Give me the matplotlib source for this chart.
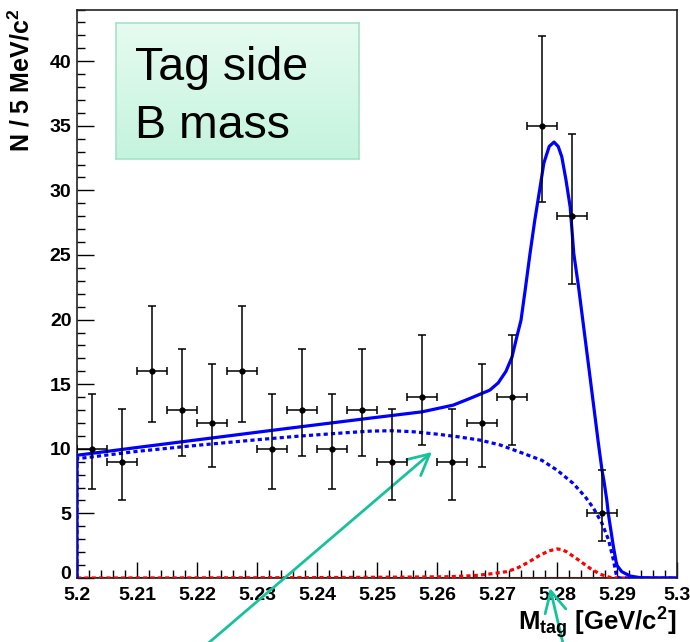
import numpy as np
import matplotlib
matplotlib.use("Agg")
import matplotlib.pyplot as plt
import matplotlib.transforms as mtransforms
from matplotlib.ticker import FixedLocator, MultipleLocator
from matplotlib.colors import LinearSegmentedColormap

plt.rcParams['font.family'] = ['Liberation Sans', 'DejaVu Sans']
plt.rcParams['mathtext.fontset'] = 'custom'
plt.rcParams['mathtext.rm'] = 'Liberation Sans'
plt.rcParams['mathtext.bf'] = 'Liberation Sans:bold'
plt.rcParams['mathtext.it'] = 'Liberation Sans:italic'

# ---------------- data ----------------
bin_centers = [5.2025, 5.2075, 5.2125, 5.2175, 5.2225, 5.2275, 5.2325, 5.2375, 5.2425,
               5.2475, 5.2525, 5.2575, 5.2625, 5.2675, 5.2725, 5.2775, 5.2825, 5.2875]
counts = [10, 9, 16, 13, 12, 16, 10, 13, 10, 13, 9, 14, 9, 12, 14, 35, 28, 5]
err_low = [3.10, 3.00, 3.95, 3.55, 3.41, 3.95, 3.10, 3.55, 3.10,
           3.55, 3.00, 3.69, 3.00, 3.41, 3.69, 5.88, 5.26, 2.16]
err_high = [4.26, 4.10, 5.08, 4.69, 4.55, 5.08, 4.26, 4.69, 4.26,
            4.69, 4.10, 4.83, 4.10, 4.55, 4.83, 6.97, 6.35, 3.38]
bin_half_width = 0.0025

# total fit (solid blue)
total_x = [5.2, 5.2, 5.21, 5.2205, 5.23, 5.2372, 5.2488, 5.2575, 5.2627, 5.2655, 5.2688,
           5.2702, 5.2715, 5.2725, 5.2733, 5.2740, 5.2747, 5.2755, 5.2763, 5.2772, 5.2778,
           5.2787, 5.2795, 5.2802, 5.2808, 5.2815, 5.2822, 5.2828, 5.2836, 5.2843,
           5.2855, 5.2869, 5.2875, 5.2878, 5.2883, 5.28855, 5.2894, 5.28995, 5.2908,
           5.2922, 5.2938, 5.2960, 5.3]
total_y = [0.0, 9.5, 10.1, 10.72, 11.28, 11.7, 12.37, 12.86, 13.38, 13.9, 14.54,
           15.1, 16.0, 17.1, 18.66, 19.95, 22.3, 25.1, 27.7, 30.3, 32.1,
           33.4, 33.74, 33.4, 32.6, 30.8, 28.7, 25.1, 22.5, 19.95,
           15.57, 10.42, 8.35, 7.58, 6.03, 5.0, 2.42, 1.0, 0.49,
           0.15, 0.03, 0.0, 0.0]

# background component (dashed blue)
bkg_x = [5.2, 5.2, 5.2005, 5.21, 5.2205, 5.23, 5.237, 5.245, 5.249, 5.2525, 5.256,
         5.2599, 5.2635, 5.2672, 5.2705, 5.2744, 5.2775, 5.28, 5.2827, 5.2847,
         5.2861, 5.2875, 5.2886, 5.2894, 5.28995, 5.2905, 5.3]
bkg_y = [0.0, 9.25, 9.26, 9.8, 10.29, 10.7, 10.98, 11.25, 11.37, 11.4, 11.32,
         11.14, 10.93, 10.67, 10.3, 9.64, 9.1, 8.35, 7.32, 6.29,
         5.39, 4.23, 2.94, 1.39, 0.1, 0.0, 0.0]

# peaking component (dashed red)
peak_x = [5.2, 5.22, 5.24, 5.255, 5.2622, 5.2661, 5.2688, 5.2716, 5.2733, 5.2752,
          5.2772, 5.2787, 5.2800, 5.2808, 5.2816, 5.2836, 5.2855, 5.2872, 5.2888,
          5.29, 5.3]
peak_y = [0.0, 0.01, 0.03, 0.07, 0.1, 0.18, 0.31, 0.49, 0.75, 1.21,
          1.78, 2.1, 2.25, 2.2, 2.03, 1.39, 0.75, 0.29, 0.05,
          0.0, 0.0]

x_ticks = [5.2, 5.21, 5.22, 5.23, 5.24, 5.25, 5.26, 5.27, 5.28, 5.29, 5.3]
x_tick_labels = ['5.2', '5.21', '5.22', '5.23', '5.24', '5.25', '5.26', '5.27',
                 '5.28', '5.29', '5.3']
y_ticks = [0, 5, 10, 15, 20, 25, 30, 35, 40]

# ---------------- figure ----------------
fig = plt.figure(figsize=(6.9, 6.42), dpi=100)
ax = fig.add_axes([77 / 690, 64 / 642, 600 / 690, 568.5 / 642])

ax.plot([5.2, 5.3], [0, 0], color='#ff0000', lw=1.5, zorder=2)
ax.plot(peak_x, peak_y, color='#ff0000', lw=2.3, dashes=(1.3, 1.0), zorder=3)
ax.plot(bkg_x, bkg_y, color='#0000ff', lw=2.3, dashes=(1.3, 1.0), zorder=4)
ax.plot(total_x, total_y, color='#0000ff', lw=2.3, zorder=5)

ax.errorbar(bin_centers, counts, yerr=[err_low, err_high],
            xerr=bin_half_width, fmt='o', color='black', ms=3.5, lw=1.1,
            capsize=2.8, capthick=1.1, zorder=6)

ax.set_xlim(5.2, 5.3)
ax.set_ylim(0, 44.0)
ax.xaxis.set_major_locator(FixedLocator(x_ticks))
ax.set_xticklabels(x_tick_labels)
ax.xaxis.set_minor_locator(MultipleLocator(0.002))
ax.yaxis.set_major_locator(FixedLocator(y_ticks))
ax.yaxis.set_minor_locator(MultipleLocator(1))
ax.tick_params(axis='both', which='major', direction='in', length=12.5, width=1.0,
               labelsize=14, pad=4, top=False, right=False)
ax.tick_params(axis='both', which='minor', direction='in', length=6, width=1.0,
               top=False, right=False)
ax.tick_params(axis='x', which='major', length=11.5, pad=6.5)
for lab in ax.get_xticklabels() + ax.get_yticklabels():
    lab.set_fontweight('bold')
# nudge the "0" label up a little so it does not collide with "5.2"
zero_lab = ax.yaxis.get_major_ticks()[0].label1
zero_lab.set_transform(zero_lab.get_transform() +
                       mtransforms.ScaledTranslation(0, 4 / 72, fig.dpi_scale_trans))
for sp in ax.spines.values():
    sp.set_linewidth(1.2)
    sp.set_color('#222222')

fig.text(21 / 690, 1 - 9 / 642, r'N / 5 MeV/c$^{\mathbf{2}}$', rotation=90,
         ha='center', va='top', fontsize=18, fontweight='bold')
fig.text(676 / 690, 1 - 630 / 642, r'M$_{\mathbf{tag}}$ [GeV/c$^{\mathbf{2}}$]',
         ha='right', va='baseline', fontsize=18.5, fontweight='bold')

# text box with gradient
bx = fig.add_axes([116 / 690, 1 - 159 / 642, 243 / 690, 136.3 / 642])
grad = np.linspace(0, 1, 100).reshape(-1, 1)
cmap = LinearSegmentedColormap.from_list('mint', ['#e6fbf1', '#c4f4dd'])
bx.imshow(grad, aspect='auto', cmap=cmap, extent=[0, 1, 0, 1], origin='upper')
bx.set_xticks([])
bx.set_yticks([])
for sp in bx.spines.values():
    sp.set_color('#a6e3c6')
    sp.set_linewidth(1.2)
fig.text(135 / 690, 1 - 80 / 642, 'Tag side', ha='left', va='baseline', fontsize=33.5)
fig.text(135 / 690, 1 - 138 / 642, 'B mass', ha='left', va='baseline', fontsize=33.5)

# arrows
arrow_color = '#17c29b'
ax.annotate('', xy=(432, 190), xycoords='figure pixels', xytext=(198, -10),
            textcoords='figure pixels', annotation_clip=False,
            arrowprops=dict(arrowstyle='->,head_length=0.75,head_width=0.38',
                            color=arrow_color, lw=2.0, mutation_scale=20,
                            shrinkA=0, shrinkB=0))
ax.annotate('', xy=(550, 54), xycoords='figure pixels', xytext=(565, -10),
            textcoords='figure pixels', annotation_clip=False,
            arrowprops=dict(arrowstyle='->,head_length=0.75,head_width=0.38',
                            color=arrow_color, lw=2.0, mutation_scale=20,
                            shrinkA=0, shrinkB=0))

fig.savefig('out.png', dpi=100, facecolor='white')
